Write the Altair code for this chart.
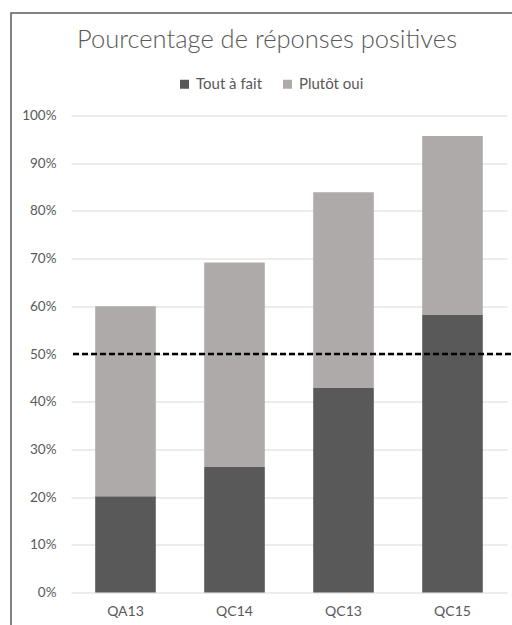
import altair as alt
import pandas as pd

# ---- data ----
categories = ["QA13", "QC14", "QC13", "QC15"]
tout_a_fait = [0.202, 0.263, 0.430, 0.582]
plutot_oui = [0.398, 0.429, 0.409, 0.375]
series = ["Tout à fait", "Plutôt oui"]
colors = ["#595959", "#AEAAAA"]
threshold = [0.5]
y_ticks = [0.0, 0.1, 0.2, 0.3, 0.4, 0.5, 0.6, 0.7, 0.8, 0.9, 1.0]
title_text = "Pourcentage de réponses positives"

rows = []
for i, c in enumerate(categories):
    rows.append({"cat": c, "serie": series[0], "val": tout_a_fait[i], "ord": 0})
    rows.append({"cat": c, "serie": series[1], "val": plutot_oui[i], "ord": 1})
df = pd.DataFrame(rows)

W, H = 436, 477
FONT = "Lato"
TXT = "#595959"

bars = alt.Chart(df).mark_bar().encode(
    x=alt.X(
        "cat:N",
        sort=categories,
        scale=alt.Scale(paddingInner=0.444, paddingOuter=0.222),
        axis=alt.Axis(
            title=None, labelAngle=0, ticks=False, domain=False,
            labelPadding=12, labelFontSize=14, labelColor=TXT, labelFont=FONT,
        ),
    ),
    y=alt.Y(
        "val:Q",
        stack="zero",
        scale=alt.Scale(domain=[0, 1]),
        axis=alt.Axis(
            title=None, values=y_ticks, format=".0%", ticks=False, domain=False,
            gridColor="#d9d9d9", gridWidth=1, labelPadding=15,
            labelFontSize=13.5, labelColor=TXT, labelFont=FONT,
        ),
    ),
    color=alt.Color(
        "serie:N",
        sort=series,
        scale=alt.Scale(domain=series, range=colors),
        legend=alt.Legend(
            orient="none", legendX=106, legendY=-39, direction="horizontal",
            title=None, symbolType="square", symbolSize=81, symbolStrokeWidth=0,
            labelFontSize=15, labelColor=TXT, labelFont=FONT,
            columnPadding=17, labelOffset=4, padding=0,
        ),
    ),
    order=alt.Order("ord:Q"),
)

rule = alt.Chart(pd.DataFrame({"y": threshold})).mark_rule(
    color="black", strokeWidth=2.5, strokeDash=[6, 3], clip=False
).encode(y="y:Q", x=alt.value(2), x2=alt.value(W + 10))

frame = alt.Chart(pd.DataFrame({"a": [0]})).mark_rect(
    fillOpacity=0, stroke="#595959", strokeWidth=1.5, clip=False
).encode(x=alt.value(-60), x2=alt.value(W + 40), y=alt.value(-102.5), y2=alt.value(H + 60))

chart = alt.layer(frame, bars, rule).properties(
    width=W,
    height=H,
    padding={"left": 71, "top": 115.5, "right": 5, "bottom": 32},
    autosize=alt.AutoSizeParams(type="none"),
    title=alt.TitleParams(
        title_text, font=FONT, fontSize=25.5, fontWeight=300, color=TXT,
        anchor="middle", baseline="alphabetic", dx=-22, dy=61, offset=0,
    ),
).configure_view(strokeWidth=0)

chart.save("out.html", embed_options={"renderer": "svg", "actions": False})
